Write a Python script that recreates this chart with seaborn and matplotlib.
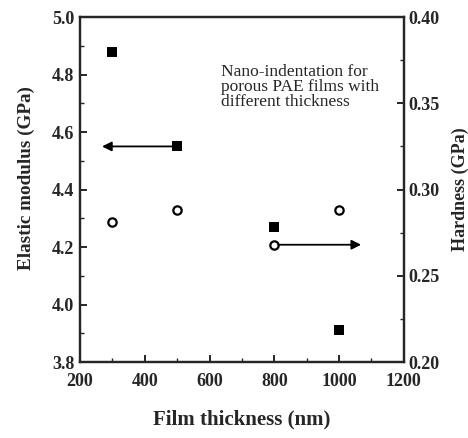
import matplotlib
matplotlib.use("Agg")
import matplotlib.pyplot as plt
import seaborn as sns
import pandas as pd

# Film thickness (nm) and measured nano-indentation properties
thickness = [300, 500, 800, 1000]
modulus_gpa = [4.88, 4.55, 4.27, 3.91]
hardness_gpa = [0.281, 0.288, 0.268, 0.288]

x_ticks = [200, 400, 600, 800, 1000, 1200]
mod_ticks = [3.8, 4.0, 4.2, 4.4, 4.6, 4.8, 5.0]
hard_ticks = [0.20, 0.25, 0.30, 0.35, 0.40]

sns.set_theme(style="ticks")
plt.rcParams["font.family"] = ["Liberation Serif", "DejaVu Serif"]
plt.rcParams["font.weight"] = "bold"

df = pd.DataFrame({"thickness": thickness, "modulus": modulus_gpa, "hardness": hardness_gpa})

fig = plt.figure(figsize=(4.68, 4.38), dpi=100)
ax = fig.add_axes([0.171, 0.1735, 0.692, 0.7875])
ax2 = ax.twinx()

sns.scatterplot(data=df, x="thickness", y="modulus", ax=ax, marker="s", s=45,
                color="black", edgecolor="black", linewidth=0, zorder=3)
sns.scatterplot(data=df, x="thickness", y="hardness", ax=ax2, marker="o", s=36,
                facecolor="white", edgecolor="black", linewidth=1.6, zorder=3)

ax.set_xlim(200, 1200)
ax.set_ylim(3.8, 5.0)
ax2.set_ylim(0.20, 0.40)
ax.set_xticks(x_ticks)
ax.set_yticks(mod_ticks)
ax2.set_yticks(hard_ticks)
ax.set_xticks(range(200, 1201, 100), minor=True)
ax.set_yticks([3.8 + 0.1 * i for i in range(13)], minor=True)
ax2.set_yticks([0.20 + 0.025 * i for i in range(9)], minor=True)

ax.set_xticklabels([str(v) for v in x_ticks])
ax.set_yticklabels([f"{v:.1f}" for v in mod_ticks])
ax2.set_yticklabels([f"{v:.2f}" for v in hard_ticks])

for a in (ax, ax2):
    for s in a.spines.values():
        s.set_linewidth(1.6)
        s.set_visible(True)
    a.tick_params(which="major", direction="in", length=5, width=1.4,
                  labelsize=13)
    a.tick_params(which="minor", direction="in", length=3, width=1.0)
ax.tick_params(axis="x", which="major", pad=8)
ax.tick_params(axis="y", which="major", pad=4)
ax2.tick_params(axis="y", which="major", pad=3)
ax.tick_params(axis="y", right=False, which="both")
ax.tick_params(axis="x", top=False, which="both")
ax2.tick_params(axis="y", left=False, which="both")

ax.set_xlabel("Film thickness (nm)", fontsize=15, fontweight="bold", labelpad=14)
ax.set_ylabel("Elastic modulus (GPa)", fontsize=13.8, fontweight="bold")
ax.yaxis.set_label_coords(-0.139, 0.533)
ax2.set_ylabel("Hardness (GPa)", fontsize=13, fontweight="bold", labelpad=9)

# Arrows pointing each series to its own axis
ax.annotate("", xy=(268, modulus_gpa[1]), xytext=(495, modulus_gpa[1]),
            arrowprops=dict(arrowstyle="-|>", color="black", lw=1.3,
                            mutation_scale=14, shrinkA=0, shrinkB=0))
ax2.annotate("", xy=(1068, hardness_gpa[2]), xytext=(812, hardness_gpa[2]),
             arrowprops=dict(arrowstyle="-|>", color="black", lw=1.3,
                             mutation_scale=14, shrinkA=0, shrinkB=0))

ax.text(0.436, 0.865, "Nano-indentation for\nporous PAE films with\ndifferent thickness",
        transform=ax.transAxes, fontsize=12.5, fontweight="normal",
        va="top", ha="left", linespacing=0.92)

fig.savefig("out.png", dpi=100)
